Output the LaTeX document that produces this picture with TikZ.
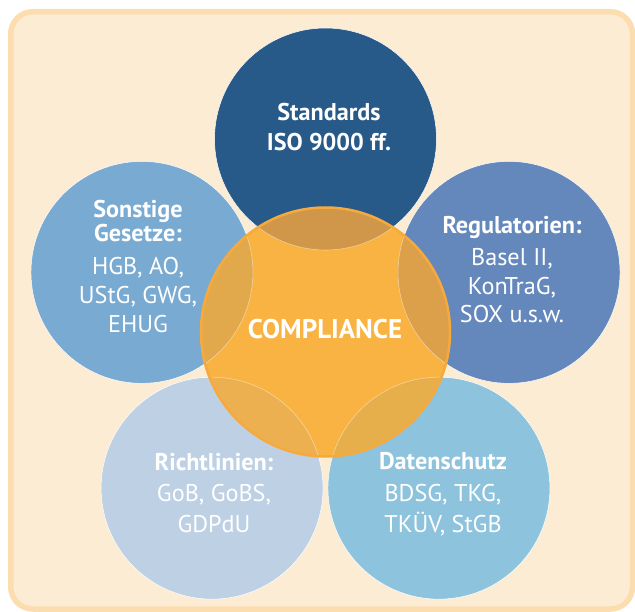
\documentclass[tikz,border=0pt]{standalone}
\usepackage{fontspec}
\setmainfont{PT Sans}
\definecolor{framefill}{HTML}{FDECD4}
\definecolor{frameborder}{HTML}{FCDDB0}
\definecolor{cstd}{HTML}{275A89}
\definecolor{cson}{HTML}{79AAD2}
\definecolor{creg}{HTML}{6488BB}
\definecolor{cric}{HTML}{BDD0E4}
\definecolor{cdat}{HTML}{8DC3DC}
\definecolor{corange}{HTML}{F8B342}
\definecolor{cborder}{HTML}{F6A93C}
\definecolor{ovstd}{HTML}{D0974A}
\definecolor{ovson}{HTML}{E2A94C}
\definecolor{ovreg}{HTML}{DC9F4A}
\definecolor{ovric}{HTML}{EDB050}
\definecolor{ovdat}{HTML}{E7AF4C}
\begin{document}
\begin{tikzpicture}[x=1pt,y=-1pt,
  bubble/.style={circle, minimum size=222pt, inner sep=0pt, draw=white, line width=0.5pt},
  hd/.style={anchor=base, inner sep=0pt, text=white, font=\fontsize{24.2}{29}\selectfont\bfseries},
  tx/.style={anchor=base, inner sep=0pt, text=white, font=\fontsize{24.2}{29}\selectfont},
  faint/.style={draw=white, draw opacity=0.45, line width=0.6pt}
]
\useasboundingbox (0,0) rectangle (635,612);
\draw[draw=frameborder, fill=framefill, line width=5.5pt, rounded corners=22pt] (10.75,11.75) rectangle (632.5,609);

% outer circles
\node[bubble, fill=cstd] (std) at (325.5,139) {};
\node[bubble, fill=cson] (son) at (141.95,272.36) {};
\node[bubble, fill=creg] (reg) at (509.05,272.36) {};
\node[bubble, fill=cric] (ric) at (212.06,488.14) {};
\node[bubble, fill=cdat] (dat) at (438.94,488.14) {};

% compliance circle
\node[circle, minimum size=249pt, inner sep=0pt, fill=corange] (comp) at (325.5,332) {};
\begin{scope}
  \clip (comp.center) circle[radius=124.5pt];
  \fill[ovstd] (std.center) circle[radius=111pt];
  \fill[ovson] (son.center) circle[radius=111pt];
  \fill[ovreg] (reg.center) circle[radius=111pt];
  \fill[ovric] (ric.center) circle[radius=111pt];
  \fill[ovdat] (dat.center) circle[radius=111pt];
  \draw[faint] (std.center) circle[radius=111pt];
  \draw[faint] (son.center) circle[radius=111pt];
  \draw[faint] (reg.center) circle[radius=111pt];
  \draw[faint] (ric.center) circle[radius=111pt];
  \draw[faint] (dat.center) circle[radius=111pt];
\end{scope}
\draw[cborder, line width=2.5pt] (comp.center) circle[radius=124.5pt];

% texts
\node[hd] (std1) at (329,121) {Standards};
\node[hd] (std2) at (329,151) {ISO 9000 ff.};

\node[hd] (son1) at (138,218) {Sonstige};
\node[hd] (son2) at (138,242) {Gesetze:};
\node[tx] (son3) at (138,275) {HGB, AO,};
\node[tx] (son4) at (138,304) {UStG, GWG,};
\node[tx] (son5) at (138,333) {EHUG};

\node[hd] (reg1) at (512,234) {Regulatorien:};
\node[tx] (reg2) at (512,266) {Basel II,};
\node[tx] (reg3) at (512,295) {KonTraG,};
\node[tx] (reg4) at (512,323) {SOX u.s.w.};

\node[hd] (ric1) at (214,470) {Richtlinien:};
\node[tx] (ric2) at (214,501) {GoB, GoBS,};
\node[tx] (ric3) at (214,532) {GDPdU};

\node[hd] (dat1) at (443,469) {Datenschutz};
\node[tx] (dat2) at (443,501) {BDSG, TKG,};
\node[tx] (dat3) at (443,532) {TKÜV, StGB};

\node[anchor=base, inner sep=0pt, text=white, font=\fontsize{27}{32}\selectfont\bfseries] (comptext) at (325,339) {COMPLIANCE};
\end{tikzpicture}
\end{document}
